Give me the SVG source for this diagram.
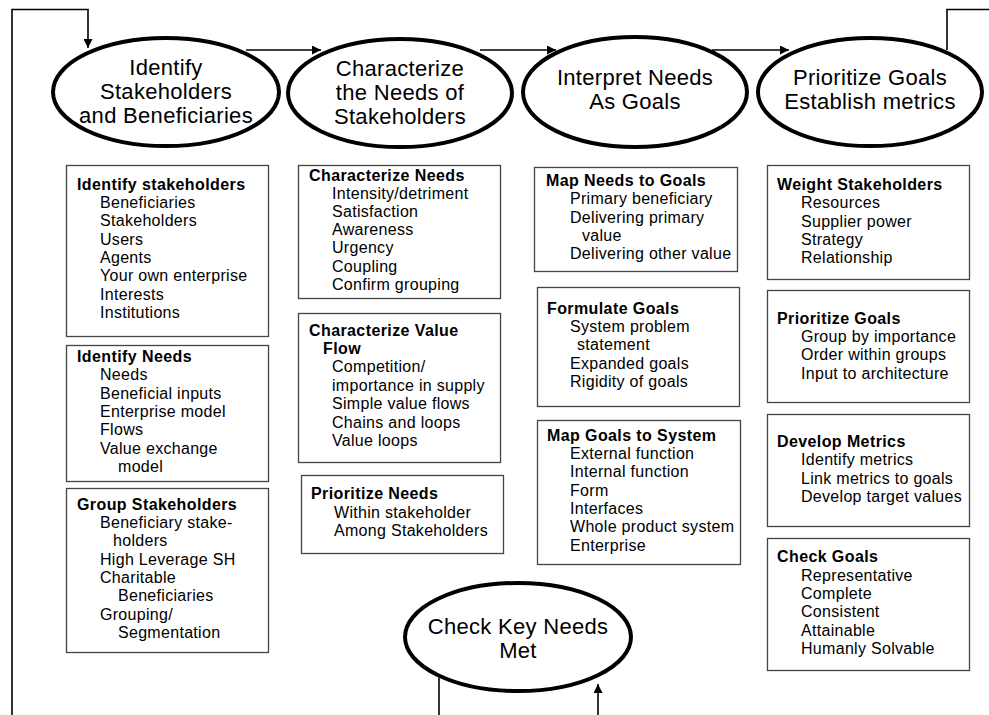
<svg xmlns="http://www.w3.org/2000/svg" width="989" height="715" viewBox="0 0 989 715">
  <style>
    .stage { fill: #ffffff; stroke: #000000; stroke-width: 4; }
    .stage-label { font-family: "Liberation Sans", Arial, sans-serif; font-size: 22px; letter-spacing: 0.3px; fill: #000000; text-anchor: middle; }
    .box { fill: #ffffff; stroke: #444444; stroke-width: 1.3; }
    .box-title { font-family: "Liberation Sans", Arial, sans-serif; font-size: 16px; font-weight: bold; letter-spacing: 0.4px; fill: #000000; }
    .box-item { font-family: "Liberation Sans", Arial, sans-serif; font-size: 16px; letter-spacing: 0.3px; fill: #000000; }
    .link { fill: none; stroke: #000000; stroke-width: 1.6; }
  </style>
  <defs>
    <marker id="arrow" viewBox="0 0 10 10" refX="10" refY="5" markerWidth="9" markerHeight="9" markerUnits="userSpaceOnUse" orient="auto">
      <path d="M0,0 L10,5 L0,10 Z" fill="#000000"/>
    </marker>
  </defs>

  <rect width="989" height="715" fill="#ffffff"/>

  <!-- connectors -->
  <g id="connectors">
    <path class="link" d="M12,715 V9.5 H88 V48" marker-end="url(#arrow)"/>
    <path class="link" d="M246,50 H321" marker-end="url(#arrow)"/>
    <path class="link" d="M480,50 H556" marker-end="url(#arrow)"/>
    <path class="link" d="M712,50 H789" marker-end="url(#arrow)"/>
    <path class="link" d="M947,50 V9.5 H989"/>
    <path class="link" d="M439,678 V715"/>
    <path class="link" d="M598,715 V684" marker-end="url(#arrow)"/>
  </g>

  <!-- process stages -->
  <g id="stage-identify">
    <ellipse class="stage" cx="166" cy="92" rx="113" ry="54"/>
    <text class="stage-label" x="166" y="75">Identify</text>
    <text class="stage-label" x="166" y="99">Stakeholders</text>
    <text class="stage-label" x="166" y="123">and Beneficiaries</text>
  </g>
  <g id="stage-characterize">
    <ellipse class="stage" cx="400" cy="93" rx="112" ry="54"/>
    <text class="stage-label" x="400" y="76">Characterize</text>
    <text class="stage-label" x="400" y="100">the Needs of</text>
    <text class="stage-label" x="400" y="124">Stakeholders</text>
  </g>
  <g id="stage-interpret">
    <ellipse class="stage" cx="635" cy="92" rx="112" ry="55"/>
    <text class="stage-label" x="635" y="85">Interpret Needs</text>
    <text class="stage-label" x="635" y="109">As Goals</text>
  </g>
  <g id="stage-prioritize">
    <ellipse class="stage" cx="870" cy="92" rx="112" ry="54"/>
    <text class="stage-label" x="870" y="85">Prioritize Goals</text>
    <text class="stage-label" x="870" y="109">Establish metrics</text>
  </g>
  <g id="stage-check">
    <ellipse class="stage" cx="518" cy="637" rx="113" ry="54"/>
    <text class="stage-label" x="518" y="634">Check Key Needs</text>
    <text class="stage-label" x="518" y="658">Met</text>
  </g>

  <!-- activity boxes, column 1 -->
  <g id="box-identify-stakeholders">
    <rect class="box" x="66.5" y="165.5" width="202" height="171"/>
    <text class="box-title" x="77" y="190">Identify stakeholders</text>
    <text class="box-item" x="100" y="208">Beneficiaries</text>
    <text class="box-item" x="100" y="226">Stakeholders</text>
    <text class="box-item" x="100" y="245">Users</text>
    <text class="box-item" x="100" y="263">Agents</text>
    <text class="box-item" x="100" y="281">Your own enterprise</text>
    <text class="box-item" x="100" y="300">Interests</text>
    <text class="box-item" x="100" y="318">Institutions</text>
  </g>
  <g id="box-identify-needs">
    <rect class="box" x="66.5" y="345.5" width="202" height="136"/>
    <text class="box-title" x="77" y="362">Identify Needs</text>
    <text class="box-item" x="100" y="380">Needs</text>
    <text class="box-item" x="100" y="399">Beneficial inputs</text>
    <text class="box-item" x="100" y="417">Enterprise model</text>
    <text class="box-item" x="100" y="435">Flows</text>
    <text class="box-item" x="100" y="454">Value exchange</text>
    <text class="box-item" x="118" y="472">model</text>
  </g>
  <g id="box-group-stakeholders">
    <rect class="box" x="66.5" y="488.5" width="202" height="164"/>
    <text class="box-title" x="77" y="510">Group Stakeholders</text>
    <text class="box-item" x="100" y="528">Beneficiary stake-</text>
    <text class="box-item" x="113" y="546">holders</text>
    <text class="box-item" x="100" y="565">High Leverage SH</text>
    <text class="box-item" x="100" y="583">Charitable</text>
    <text class="box-item" x="118" y="601">Beneficiaries</text>
    <text class="box-item" x="100" y="620">Grouping/</text>
    <text class="box-item" x="118" y="638">Segmentation</text>
  </g>

  <!-- activity boxes, column 2 -->
  <g id="box-characterize-needs">
    <rect class="box" x="298.5" y="165.5" width="202" height="133"/>
    <text class="box-title" x="309" y="181">Characterize Needs</text>
    <text class="box-item" x="332" y="199">Intensity/detriment</text>
    <text class="box-item" x="332" y="217">Satisfaction</text>
    <text class="box-item" x="332" y="235">Awareness</text>
    <text class="box-item" x="332" y="253">Urgency</text>
    <text class="box-item" x="332" y="272">Coupling</text>
    <text class="box-item" x="332" y="290">Confirm grouping</text>
  </g>
  <g id="box-characterize-value-flow">
    <rect class="box" x="298.5" y="313.5" width="202" height="149"/>
    <text class="box-title" x="309" y="336">Characterize Value</text>
    <text class="box-title" x="323" y="354">Flow</text>
    <text class="box-item" x="332" y="372">Competition/</text>
    <text class="box-item" x="332" y="391">importance in supply</text>
    <text class="box-item" x="332" y="409">Simple value flows</text>
    <text class="box-item" x="332" y="428">Chains and loops</text>
    <text class="box-item" x="332" y="446">Value loops</text>
  </g>
  <g id="box-prioritize-needs">
    <rect class="box" x="301.5" y="475.5" width="202" height="78"/>
    <text class="box-title" x="311" y="499">Prioritize Needs</text>
    <text class="box-item" x="334" y="518">Within stakeholder</text>
    <text class="box-item" x="334" y="536">Among Stakeholders</text>
  </g>

  <!-- activity boxes, column 3 -->
  <g id="box-map-needs">
    <rect class="box" x="534.5" y="167.5" width="203" height="104"/>
    <text class="box-title" x="546" y="186">Map Needs to Goals</text>
    <text class="box-item" x="570" y="204">Primary beneficiary</text>
    <text class="box-item" x="570" y="223">Delivering primary</text>
    <text class="box-item" x="582" y="241">value</text>
    <text class="box-item" x="570" y="259">Delivering other value</text>
  </g>
  <g id="box-formulate-goals">
    <rect class="box" x="537.5" y="287.5" width="202" height="119"/>
    <text class="box-title" x="547" y="314">Formulate Goals</text>
    <text class="box-item" x="570" y="332">System problem</text>
    <text class="box-item" x="577" y="350">statement</text>
    <text class="box-item" x="570" y="369">Expanded goals</text>
    <text class="box-item" x="570" y="387">Rigidity of goals</text>
  </g>
  <g id="box-map-goals">
    <rect class="box" x="537.5" y="420.5" width="203" height="144"/>
    <text class="box-title" x="547" y="441">Map Goals to System</text>
    <text class="box-item" x="570" y="459">External function</text>
    <text class="box-item" x="570" y="477">Internal function</text>
    <text class="box-item" x="570" y="496">Form</text>
    <text class="box-item" x="570" y="514">Interfaces</text>
    <text class="box-item" x="570" y="532">Whole product system</text>
    <text class="box-item" x="570" y="551">Enterprise</text>
  </g>

  <!-- activity boxes, column 4 -->
  <g id="box-weight-stakeholders">
    <rect class="box" x="767.5" y="165.5" width="202" height="114"/>
    <text class="box-title" x="777" y="190">Weight Stakeholders</text>
    <text class="box-item" x="801" y="208">Resources</text>
    <text class="box-item" x="801" y="227">Supplier power</text>
    <text class="box-item" x="801" y="245">Strategy</text>
    <text class="box-item" x="801" y="263">Relationship</text>
  </g>
  <g id="box-prioritize-goals">
    <rect class="box" x="767.5" y="290.5" width="202" height="112"/>
    <text class="box-title" x="777" y="324">Prioritize Goals</text>
    <text class="box-item" x="801" y="342">Group by importance</text>
    <text class="box-item" x="801" y="360">Order within groups</text>
    <text class="box-item" x="801" y="379">Input to architecture</text>
  </g>
  <g id="box-develop-metrics">
    <rect class="box" x="767.5" y="414.5" width="202" height="112"/>
    <text class="box-title" x="777" y="447">Develop Metrics</text>
    <text class="box-item" x="801" y="465">Identify metrics</text>
    <text class="box-item" x="801" y="484">Link metrics to goals</text>
    <text class="box-item" x="801" y="502">Develop target values</text>
  </g>
  <g id="box-check-goals">
    <rect class="box" x="767.5" y="538.5" width="202" height="132"/>
    <text class="box-title" x="777" y="562">Check Goals</text>
    <text class="box-item" x="801" y="581">Representative</text>
    <text class="box-item" x="801" y="599">Complete</text>
    <text class="box-item" x="801" y="617">Consistent</text>
    <text class="box-item" x="801" y="636">Attainable</text>
    <text class="box-item" x="801" y="654">Humanly Solvable</text>
  </g>
</svg>
